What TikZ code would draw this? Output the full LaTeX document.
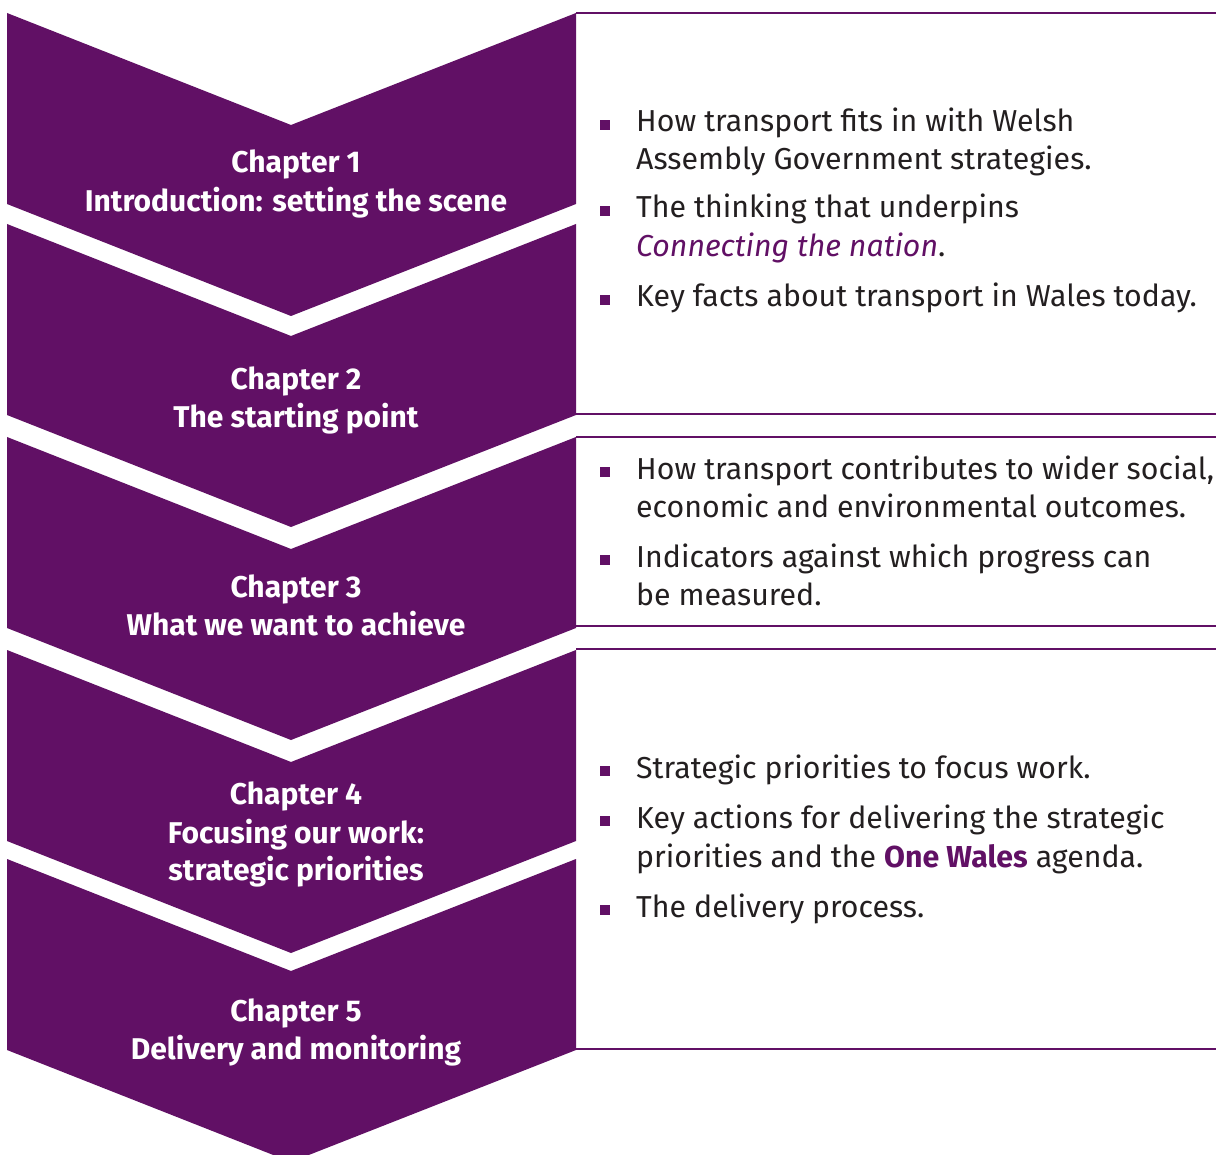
\documentclass[tikz,border=0pt]{standalone}
\usepackage{fontspec}
\setmainfont{Fira Sans}
\definecolor{wpurple}{RGB}{97,16,101}
\definecolor{wtext}{RGB}{35,31,32}
\newcommand\bulletline[3]{%
  \fill[bul] (600,#1-12) rectangle (610,#1-2);
  \node[body] (#2) at (636,#1) {#3};}
\newcommand\plainline[3]{\node[body] (#2) at (636,#1) {#3};}
\newcommand\chevron[2]{%
  \fill[chev] (7,#1) -- (291,#1+112) -- (576,#1) -- (576,#1+191) -- (291,#1+303) -- (7,#1+191) -- cycle;
  \coordinate (#2) at (291,#1);}
\begin{document}
\begin{tikzpicture}[x=1pt,y=-1pt,
  chev/.style={fill=wpurple, draw=none},
  boxline/.style={draw=wpurple, line width=2.2pt},
  chtext/.style={text=white, font=\bfseries\fontsize{30}{34}\selectfont, anchor=base, inner sep=0},
  body/.style={text=wtext, font=\fontsize{30.3}{36}\selectfont, anchor=base west, inner sep=0},
  bul/.style={fill=wpurple, draw=none}]
\useasboundingbox (0,0) rectangle (1216,1155);
\fill[white] (0,0) rectangle (1216,1155);

% boxes
\draw[boxline] (576,13) -- (1216,13);
\draw[boxline] (576,414) -- (1216,414);
\draw[boxline] (576,437) -- (1216,437);
\draw[boxline] (576,626) -- (1216,626);
\draw[boxline] (576,649) -- (1216,649);
\draw[boxline] (576,1049) -- (1216,1049);

% chevrons
\chevron{13}{ch1}
\chevron{224}{ch2}
\chevron{437}{ch3}
\chevron{650}{ch4}
\chevron{859}{ch5}

% chapter labels
\node[chtext] (c1a) at (296,173) {Chapter 1};
\node[chtext] (c1b) at (296,212) {Introduction: setting the scene};
\node[chtext] (c2a) at (296,390) {Chapter 2};
\node[chtext] (c2b) at (296,428) {The starting point};
\node[chtext] (c3a) at (296,597) {Chapter 3};
\node[chtext] (c3b) at (296,635) {What we want to achieve};
\node[chtext] (c4a) at (296,804) {Chapter 4};
\node[chtext] (c4b) at (296,843) {Focusing our work:};
\node[chtext] (c4c) at (296,880) {strategic priorities};
\node[chtext] (c5a) at (296,1021) {Chapter 5};
\node[chtext] (c5b) at (296,1059) {Delivery and monitoring};

% box 1
\bulletline{132}{t1a}{How transport fits in with Welsh}
\plainline{170}{t1b}{Assembly Government strategies.}
\bulletline{218}{t2a}{The thinking that underpins}
\plainline{257}{t2b}{\textcolor{wpurple}{\itshape Connecting the nation}.}
\bulletline{307}{t3a}{Key facts about transport in Wales today.}

% box 2
\bulletline{479}{t4a}{How transport contributes to wider social,}
\plainline{517}{t4b}{economic and environmental outcomes.}
\bulletline{567}{t5a}{Indicators against which progress can}
\plainline{605}{t5b}{be measured.}

% box 3
\bulletline{778}{t6a}{Strategic priorities to focus work.}
\bulletline{828}{t7a}{Key actions for delivering the strategic}
\plainline{867}{t7b}{priorities and the \textcolor{wpurple}{\bfseries One Wales} agenda.}
\bulletline{917}{t8a}{The delivery process.}
\end{tikzpicture}
\end{document}
